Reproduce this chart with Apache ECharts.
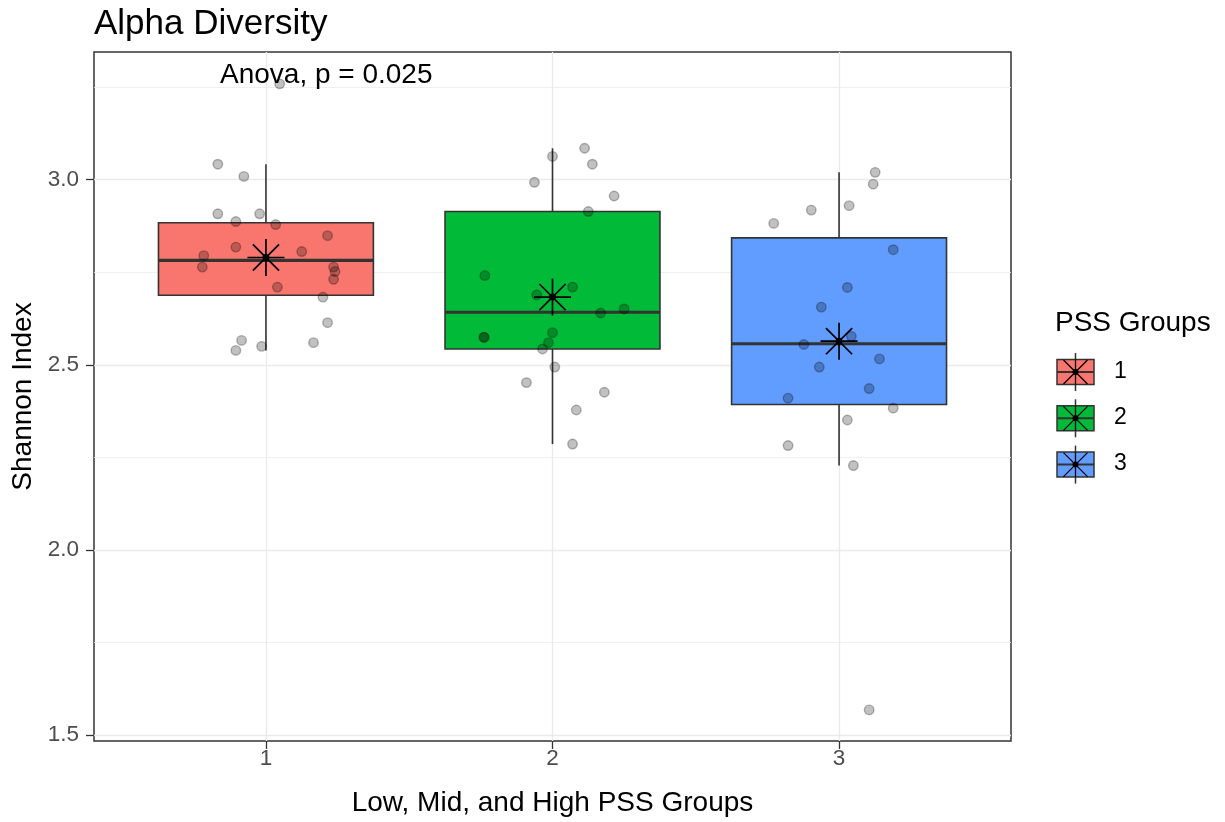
<!DOCTYPE html>
<html>
<head>
<meta charset="utf-8">
<script src="https://cdn.jsdelivr.net/npm/echarts@6.0.0/dist/echarts.min.js"></script>
<style>
  html, body { margin: 0; padding: 0; background: #fff; }
  #chart { width: 1225px; height: 822px; }
</style>
</head>
<body>
<div id="chart"></div>
<script>
// PSS groups on the x axis
const groups = [1, 2, 3];
const groupColors = ['#F8766D', '#00BA38', '#619CFF'];

// box stats per group: [whisker low, q1, median, q3, whisker high]
const boxStats = [
  [2.539, 2.688, 2.782, 2.884, 3.042],
  [2.286, 2.543, 2.642, 2.914, 3.085],
  [2.228, 2.393, 2.557, 2.843, 3.020]
];
// group means (asterisk)
const groupMeans = [2.790, 2.683, 2.564];

// jittered samples [x, shannon index]
const points1 = [
  [0.832, 3.042], [0.923, 3.009], [0.832, 2.908], [0.978, 2.908], [0.895, 2.887],
  [1.034, 2.879], [1.215, 2.849], [0.895, 2.818], [1.125, 2.806], [0.783, 2.795],
  [0.778, 2.764], [1.236, 2.764], [1.241, 2.752], [1.236, 2.731], [1.040, 2.710],
  [1.199, 2.683], [1.215, 2.614], [0.915, 2.566], [0.895, 2.539], [0.985, 2.550],
  [1.166, 2.560], [1.048, 3.259]
];
const points2 = [
  [2.112, 3.085], [2.000, 3.063], [2.139, 3.042], [1.937, 2.993], [2.215, 2.956],
  [2.125, 2.914], [1.764, 2.741], [2.070, 2.710], [1.945, 2.689], [2.250, 2.651],
  [2.168, 2.640], [1.760, 2.575], [1.762, 2.574], [2.000, 2.587], [1.986, 2.560],
  [1.965, 2.543], [2.008, 2.494], [1.909, 2.452], [2.181, 2.426], [2.083, 2.378],
  [2.070, 2.286]
];
const points3 = [
  [3.126, 3.020], [3.119, 2.988], [3.035, 2.930], [2.903, 2.918], [2.772, 2.882],
  [3.189, 2.811], [3.029, 2.709], [2.938, 2.656], [3.043, 2.577], [2.877, 2.555],
  [3.141, 2.516], [2.931, 2.494], [3.105, 2.436], [2.822, 2.410], [3.189, 2.383],
  [3.029, 2.351], [2.822, 2.282], [3.050, 2.228], [3.105, 1.568]
];

// axis ticks
const yTicks = [1.5, 2.0, 2.5, 3.0];
const yMinorTicks = [1.75, 2.25, 2.75, 3.25];

const FONT = "'Liberation Sans', Arial, sans-serif";
const BOX_HALF = 0.375;

function renderBox(params, api) {
  const x = api.value(0);
  const tl = api.coord([x - BOX_HALF, api.value(4)]);
  const br = api.coord([x + BOX_HALF, api.value(2)]);
  const mid = api.coord([x, api.value(3)]);
  const top = api.coord([x, api.value(5)]);
  const bot = api.coord([x, api.value(1)]);
  const st = { stroke: '#333333', lineWidth: 1.6 };
  return {
    type: 'group',
    children: [
      { type: 'line', shape: { x1: top[0], y1: top[1], x2: top[0], y2: tl[1] }, style: st },
      { type: 'line', shape: { x1: bot[0], y1: br[1], x2: bot[0], y2: bot[1] }, style: st },
      {
        type: 'rect',
        shape: { x: tl[0], y: tl[1], width: br[0] - tl[0], height: br[1] - tl[1] },
        style: { fill: groupColors[params.dataIndex], stroke: '#333333', lineWidth: 1.6 }
      },
      { type: 'line', shape: { x1: tl[0], y1: mid[1], x2: br[0], y2: mid[1] }, style: { stroke: '#333333', lineWidth: 3.2 } }
    ]
  };
}

function starChildren(cx, cy, r) {
  const d = r * 0.707;
  const st = { stroke: '#000', lineWidth: 1.7 };
  return [
    { type: 'line', shape: { x1: cx - r, y1: cy, x2: cx + r, y2: cy }, style: st },
    { type: 'line', shape: { x1: cx, y1: cy - r, x2: cx, y2: cy + r }, style: st },
    { type: 'line', shape: { x1: cx - d, y1: cy - d, x2: cx + d, y2: cy + d }, style: st },
    { type: 'line', shape: { x1: cx - d, y1: cy + d, x2: cx + d, y2: cy - d }, style: st },
    { type: 'circle', shape: { cx: cx, cy: cy, r: 3.5 }, style: { fill: '#000' } }
  ];
}

function renderStar(params, api) {
  const c = api.coord([api.value(0), api.value(1)]);
  return { type: 'group', children: starChildren(c[0], c[1], 18.5) };
}

// legend keys (box + whisker + asterisk)
const legendChildren = [
  { type: 'text', left: 1055, top: 309, style: { text: 'PSS Groups', font: '28px ' + FONT, fill: '#000' } }
];
groups.forEach(function (g, i) {
  const cy = 372 + i * 46.3;
  const x0 = 1057, w = 37, h = 25;
  const cx = x0 + w / 2;
  legendChildren.push(
    { type: 'line', shape: { x1: cx, y1: cy - 19, x2: cx, y2: cy + 19 }, style: { stroke: '#333', lineWidth: 1.5 }, z: 10 },
    { type: 'rect', shape: { x: x0, y: cy - h / 2, width: w, height: h }, style: { fill: groupColors[i], stroke: '#333', lineWidth: 1.5 }, z: 11 },
    { type: 'line', shape: { x1: x0, y1: cy, x2: x0 + w, y2: cy }, style: { stroke: '#333', lineWidth: 2 }, z: 12 },
    { type: 'line', shape: { x1: cx, y1: cy - h / 2, x2: cx, y2: cy + h / 2 }, style: { stroke: '#000', lineWidth: 1.3 }, z: 12 },
    { type: 'line', shape: { x1: cx - 12, y1: cy - 12, x2: cx + 12, y2: cy + 12 }, style: { stroke: '#000', lineWidth: 1.2 }, z: 12 },
    { type: 'line', shape: { x1: cx - 12, y1: cy + 12, x2: cx + 12, y2: cy - 12 }, style: { stroke: '#000', lineWidth: 1.2 }, z: 12 },
    { type: 'circle', shape: { cx: cx, cy: cy, r: 3 }, style: { fill: '#000' }, z: 13 },
    { type: 'text', left: 1114, top: cy - 12, style: { text: String(g), font: '23px ' + FONT, fill: '#000' }, z: 12 }
  );
});

const pointStyle = {
  color: 'rgba(0,0,0,0.3)',
  borderColor: 'rgba(0,0,0,0.35)',
  borderWidth: 1.4
};

const gridLines = []
  .concat(yMinorTicks.map(v => ({ yAxis: v, lineStyle: { width: 0.8 } })))
  .concat(yTicks.map(v => ({ yAxis: v, lineStyle: { width: 1.4 } })))
  .concat(groups.map(v => ({ xAxis: v, lineStyle: { width: 1.4 } })));

const option = {
  animation: false,
  backgroundColor: '#fff',
  textStyle: { fontFamily: FONT },
  title: {
    text: 'Alpha Diversity',
    left: 89,
    top: 2,
    textStyle: { fontSize: 35, fontWeight: 'normal', color: '#000', fontFamily: FONT }
  },
  grid: {
    left: 94, right: 214, top: 52, bottom: 80,
    show: true, borderColor: '#333333', borderWidth: 1.5, backgroundColor: '#fff'
  },
  xAxis: {
    type: 'value',
    min: 0.4,
    max: 3.6,
    name: 'Low, Mid, and High PSS Groups',
    nameLocation: 'middle',
    nameGap: 48,
    nameTextStyle: { fontSize: 28, color: '#000', fontFamily: FONT },
    axisLine: { show: false },
    axisTick: { show: true, length: 8, customValues: groups, lineStyle: { color: '#333', width: 1.3 } },
    axisLabel: { customValues: groups, fontSize: 22.5, color: '#4D4D4D', margin: 6, fontFamily: FONT },
    splitLine: { show: false }
  },
  yAxis: {
    type: 'value',
    min: 1.484,
    max: 3.345,
    name: 'Shannon Index',
    nameLocation: 'middle',
    nameGap: 55,
    nameTextStyle: { fontSize: 28, color: '#000', fontFamily: FONT },
    axisLine: { show: false },
    axisTick: { show: true, length: 8, customValues: yTicks, lineStyle: { color: '#333', width: 1.3 } },
    axisLabel: {
      customValues: yTicks, fontSize: 22.5, color: '#4D4D4D', margin: 15, fontFamily: FONT,
      formatter: v => v.toFixed(1)
    },
    splitLine: { show: false }
  },
  graphic: [
    { type: 'text', left: 220, top: 61, style: { text: 'Anova, p = 0.025', font: '28px ' + FONT, fill: '#000' }, z: 100 },
    { type: 'group', children: legendChildren }
  ],
  series: [
    {
      name: 'grid',
      type: 'line',
      data: [],
      z: 0,
      silent: true,
      markLine: {
        silent: true,
        z: 0,
        symbol: ['none', 'none'],
        label: { show: false },
        lineStyle: { color: '#EBEBEB', type: 'solid' },
        data: gridLines
      }
    },
    {
      name: 'box',
      type: 'custom',
      z: 10,
      renderItem: renderBox,
      encode: { x: 0, y: [1, 2, 3, 4, 5] },
      data: groups.map((g, i) => [g].concat(boxStats[i]))
    },
    { name: 'g1', type: 'scatter', z: 11, symbolSize: 9.5, itemStyle: pointStyle, data: points1 },
    { name: 'g2', type: 'scatter', z: 11, symbolSize: 9.5, itemStyle: pointStyle, data: points2 },
    { name: 'g3', type: 'scatter', z: 11, symbolSize: 9.5, itemStyle: pointStyle, data: points3 },
    {
      name: 'mean',
      type: 'custom',
      z: 12,
      renderItem: renderStar,
      encode: { x: 0, y: 1 },
      data: groups.map((g, i) => [g, groupMeans[i]])
    }
  ]
};

const chart = echarts.init(document.getElementById('chart'));
chart.setOption(option);
</script>
</body>
</html>
